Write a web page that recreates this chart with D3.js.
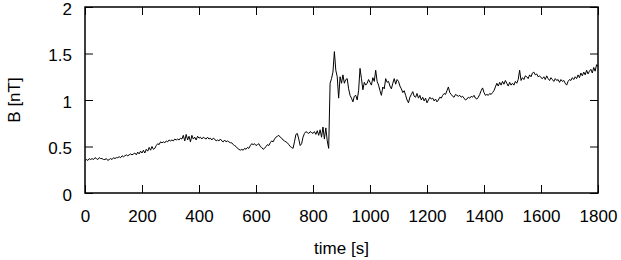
<!DOCTYPE html>
<html>
<head>
<meta charset="utf-8">
<script src="https://cdn.jsdelivr.net/npm/d3@7"></script>
<style>
  body { margin: 0; background: #fff; }
  svg text { font-family: "Liberation Sans", Arial, sans-serif; fill: #000; }
</style>
</head>
<body>
<div id="chart"></div>
<script>
// B field, sampled every 5 s from 0 to 1800 s (one row = 100 s)
const sampleStep = 5;
const bValues = [
  0.35, 0.36, 0.35, 0.37, 0.36, 0.37, 0.36, 0.38, 0.37, 0.36, 0.38, 0.37, 0.37, 0.36, 0.36, 0.37, 0.35, 0.36, 0.37, 0.36, 0.38,
  0.37, 0.38, 0.38, 0.39, 0.38, 0.40, 0.39, 0.40, 0.41, 0.40, 0.41, 0.42, 0.41, 0.42, 0.43, 0.41, 0.44, 0.42, 0.45, 0.43,
  0.46, 0.43, 0.47, 0.45, 0.49, 0.46, 0.50, 0.47, 0.48, 0.51, 0.53, 0.52, 0.55, 0.54, 0.55, 0.54, 0.56, 0.55, 0.57, 0.56,
  0.57, 0.56, 0.58, 0.57, 0.58, 0.57, 0.59, 0.58, 0.62, 0.56, 0.63, 0.57, 0.61, 0.55, 0.62, 0.58, 0.60, 0.57, 0.61, 0.59,
  0.60, 0.58, 0.60, 0.59, 0.58, 0.60, 0.58, 0.59, 0.57, 0.59, 0.58, 0.56, 0.57, 0.56, 0.58, 0.56, 0.55, 0.57, 0.55, 0.56,
  0.55, 0.54, 0.54, 0.52, 0.51, 0.50, 0.48, 0.47, 0.46, 0.47, 0.46, 0.48, 0.47, 0.49, 0.48, 0.51, 0.53, 0.52, 0.53, 0.51,
  0.52, 0.53, 0.50, 0.49, 0.47, 0.48, 0.50, 0.52, 0.51, 0.54, 0.56, 0.55, 0.58, 0.60, 0.61, 0.62, 0.60, 0.59, 0.57, 0.56,
  0.55, 0.54, 0.52, 0.50, 0.49, 0.48, 0.55, 0.63, 0.64, 0.58, 0.51, 0.53, 0.60, 0.64, 0.66, 0.65, 0.64, 0.66, 0.65, 0.64,
  0.66, 0.63, 0.67, 0.62, 0.68, 0.60, 0.71, 0.58, 0.70, 0.56, 0.48, 1.18, 1.23, 1.30, 1.52, 1.32, 1.25, 1.02, 1.25, 1.18,
  1.27, 1.18, 1.22, 1.23, 1.12, 1.05, 1.02, 0.98, 1.04, 1.05, 1.00, 1.10, 1.34, 1.23, 1.11, 1.19, 1.16, 1.18, 1.22, 1.19,
  1.16, 1.24, 1.20, 1.32, 1.20, 1.16, 1.10, 1.05, 1.14, 1.12, 1.23, 1.19, 1.20, 1.15, 1.12, 1.18, 1.23, 1.17, 1.22, 1.20,
  1.15, 1.12, 1.08, 1.10, 1.05, 1.00, 0.97, 1.03, 1.06, 1.09, 1.04, 1.03, 1.07, 1.02, 1.05, 1.00, 1.03, 0.99, 1.02, 0.97,
  1.00, 1.03, 1.01, 1.02, 0.99, 1.01, 0.98, 1.00, 1.03, 1.02, 1.05, 1.07, 1.06, 1.10, 1.14, 1.08, 1.06, 1.04, 1.03, 1.06,
  1.05, 1.04, 1.05, 1.03, 1.04, 1.02, 1.00, 1.01, 1.03, 1.02, 1.04, 1.03, 1.05, 1.02, 1.01, 1.03, 1.06, 1.10, 1.13, 1.08,
  1.05, 1.06, 1.05, 1.07, 1.06, 1.08, 1.10, 1.14, 1.18, 1.15, 1.19, 1.16, 1.20, 1.17, 1.21, 1.18, 1.15, 1.19, 1.16, 1.18,
  1.16, 1.20, 1.18, 1.22, 1.32, 1.21, 1.24, 1.22, 1.26, 1.25, 1.23, 1.27, 1.25, 1.29, 1.30, 1.27, 1.28, 1.25, 1.26, 1.24,
  1.23, 1.25, 1.22, 1.26, 1.23, 1.21, 1.24, 1.22, 1.20, 1.23, 1.21, 1.22, 1.19, 1.22, 1.20, 1.21, 1.18, 1.16, 1.20, 1.22,
  1.21, 1.24, 1.22, 1.25, 1.23, 1.27, 1.24, 1.29, 1.26, 1.30, 1.27, 1.32, 1.28, 1.31, 1.33, 1.29, 1.35, 1.31, 1.38, 1.36
];
const xTicks = [0, 200, 400, 600, 800, 1000, 1200, 1400, 1600, 1800];
const yTicks = [0, 0.5, 1, 1.5, 2];
const xLabel = "time [s]";
const yLabel = "B [nT]";

const width = 621, height = 260;
const margin = {top: 7, right: 23, bottom: 67, left: 85};
const w = width - margin.left - margin.right;
const h = height - margin.top - margin.bottom;

const svg = d3.select("#chart").append("svg")
  .attr("width", width)
  .attr("height", height);

const g = svg.append("g")
  .attr("transform", `translate(${margin.left},${margin.top})`);

const x = d3.scaleLinear().domain([0, 1800]).range([0, w]);
const y = d3.scaleLinear().domain([0, 2]).range([h, 0]);

let series = bValues.map((v, i) => [i * sampleStep, v]);

// axes, ticks point inward on all four sides
let styleAxis = (sel) => {
  sel.select(".domain").remove();
  sel.selectAll("line").attr("stroke", "#000").attr("stroke-width", 1);
  sel.selectAll("text").style("font-size", "17px");
};

g.append("g")
  .attr("transform", `translate(0,${h})`)
  .call(d3.axisBottom(x).tickValues(xTicks).tickSize(-8).tickPadding(17).tickFormat(d3.format("d")))
  .call(styleAxis);
g.append("g")
  .call(d3.axisTop(x).tickValues(xTicks).tickSize(-8).tickFormat(""))
  .call(styleAxis);
g.append("g")
  .call(d3.axisLeft(y).tickValues(yTicks).tickSize(-8).tickPadding(13).tickFormat(d3.format("")))
  .call(styleAxis)
  .selectAll("text").attr("dy", "0.42em");
g.append("g")
  .attr("transform", `translate(${w},0)`)
  .call(d3.axisRight(y).tickValues(yTicks).tickSize(-8).tickFormat(""))
  .call(styleAxis);

g.append("path")
  .datum(series)
  .attr("fill", "none")
  .attr("stroke", "#000")
  .attr("stroke-width", 1)
  .attr("stroke-linejoin", "round")
  .attr("d", d3.line().x(d => x(d[0])).y(d => y(d[1])));

g.append("rect")
  .attr("width", w)
  .attr("height", h)
  .attr("fill", "none")
  .attr("stroke", "#000")
  .attr("stroke-width", 1.5);

svg.append("text")
  .attr("x", margin.left + w / 2)
  .attr("y", 254)
  .attr("text-anchor", "middle")
  .style("font-size", "17px")
  .text(xLabel);

svg.append("text")
  .attr("transform", `translate(20,${margin.top + h / 2}) rotate(-90)`)
  .attr("text-anchor", "middle")
  .style("font-size", "17px")
  .text(yLabel);
</script>
</body>
</html>
